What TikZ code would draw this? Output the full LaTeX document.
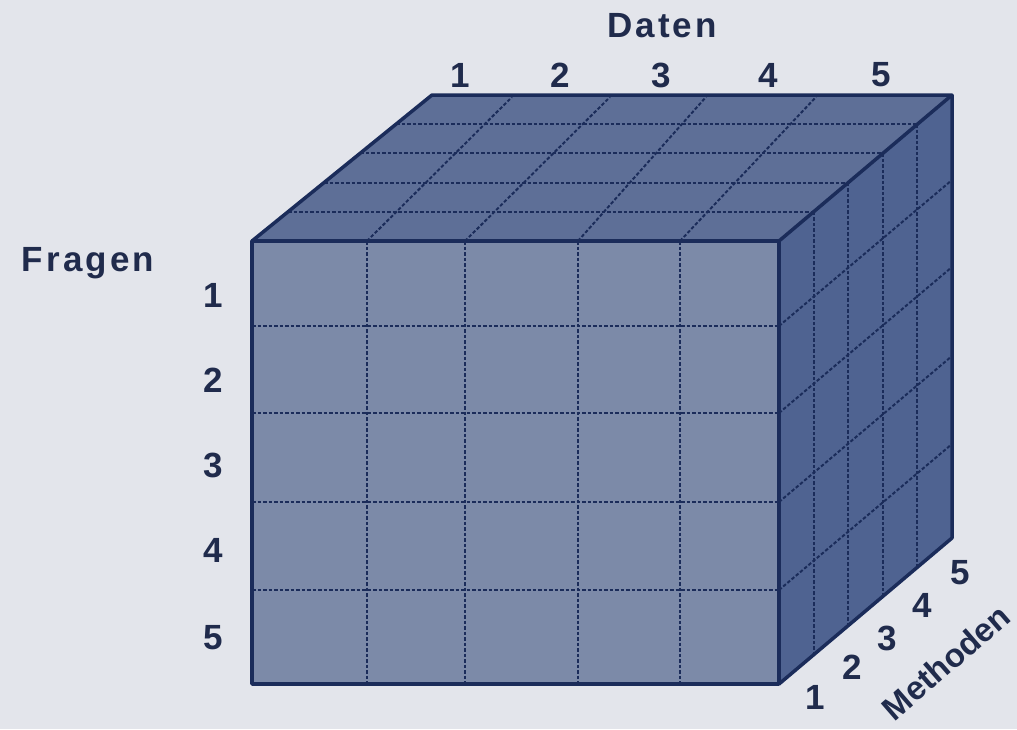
\documentclass[tikz,border=0pt]{standalone}
\usepackage{fontspec}
\setmainfont{Liberation Sans}
\newfontfamily\lblfont[LetterSpace=9]{Liberation Sans}
\usepackage{tikz}
\usetikzlibrary{calc}
\definecolor{bgcol}{HTML}{E3E5EB}
\definecolor{frontcol}{HTML}{7C8AA8}
\definecolor{topcol}{HTML}{5E6F97}
\definecolor{sidecol}{HTML}{4F6391}
\definecolor{edgecol}{HTML}{1B2C5A}
\definecolor{txtcol}{HTML}{202B4C}

\tikzset{
  edge/.style={draw=edgecol, line width=3.5pt, line join=round},
  gridline/.style={draw=edgecol, line width=2pt, dash pattern=on 3.5pt off 2pt},
  lbl/.style={font=\lblfont\fontsize{35}{38}\selectfont\bfseries, text=txtcol, inner sep=0pt},
  tiltlbl/.style={font=\fontsize{33}{36}\selectfont\bfseries, text=txtcol, inner sep=0pt, rotate=41}
}

\begin{document}
\begin{tikzpicture}[x=1pt, y=-1pt]
    \fill[bgcol] (0,0) rectangle (1017,729);
    \useasboundingbox (0,0) rectangle (1017,729);

    % corners of the cube
    \coordinate (A) at (252,241);
    \coordinate (B) at (779,241);
    \coordinate (C) at (779,684);
    \coordinate (D) at (252,684);
    \coordinate (E) at (432,95);
    \coordinate (F) at (952,95);
    \coordinate (G) at (952,538);

    % faces
    \fill[topcol] (A) -- (B) -- (F) -- (E) -- cycle;
    \fill[sidecol] (B) -- (F) -- (G) -- (C) -- cycle;
    \fill[frontcol] (A) rectangle (C);

    % front grid
    \foreach \x in {367,465,578,680}
        \draw[gridline] (\x,241) -- (\x,684);
    \foreach \y in {326,413,502,590}
        \draw[gridline] (252,\y) -- (779,\y);

    % top grid
    \foreach \k in {1,...,4}
        \draw[gridline] ($(A)!\k/5!(E)$) -- ($(B)!\k/5!(F)$);
    \foreach \x/\xb in {367/512,465/610,578/706,680/816}
        \draw[gridline] (\x,241) -- (\xb,97);

    % side grid
    \foreach \k in {1,...,4}
        \draw[gridline] ($(B)!\k/5!(F)$) -- ($(C)!\k/5!(G)$);
    \foreach \y in {326,413,502,590}
        \draw[gridline] (779,\y) -- ($(779,\y)+(173,-146)$);

    % edges
    \draw[edge] (A) -- (E) -- (F) -- (B);
    \draw[edge] (F) -- (G) -- (C);
    \draw[edge] (A) rectangle (C);

    % axis labels
    \node[lbl] (daten) at (662,26) {Daten};
    \node[lbl] (fragen) at (88,263) {Fragen};
    \node[tiltlbl] (methoden) at (946,662) {Methoden};

    \foreach \n/\x in {1/460,2/560,3/661,4/768,5/881}
        \node[lbl] (d\n) at (\x,75) {\n};
    \foreach \n/\y in {1/295,2/380,3/465,4/550,5/638}
        \node[lbl] (f\n) at (213,\y) {\n};
    \foreach \n/\x/\y in {1/815/697,2/852/667,3/887/638,4/922/605,5/960/573}
        \node[lbl] (m\n) at (\x,\y) {\n};
\end{tikzpicture}
\end{document}
